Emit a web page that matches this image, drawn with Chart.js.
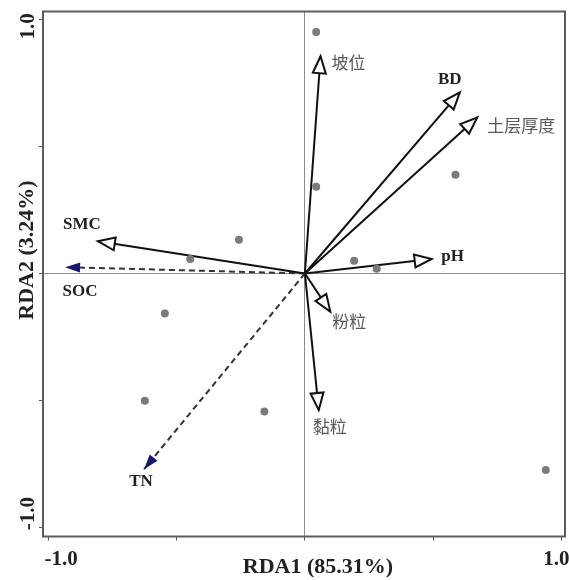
<!DOCTYPE html>
<html>
<head>
<meta charset="utf-8">
<script src="https://cdn.jsdelivr.net/npm/chart.js@4.4.1/dist/chart.umd.min.js"></script>
<style>
  html, body { margin: 0; padding: 0; background: #fff; }
</style>
</head>
<body>
<canvas id="rda" width="569" height="580"></canvas>
<script>
// sample scores
const siteX = [0.044, 0.044, 0.587, -0.257, -0.447, 0.192, 0.280, -0.546, -0.624, -0.158, 0.939];
const siteY = [0.950, 0.341, 0.389, 0.133, 0.057, 0.050, 0.019, -0.157, -0.501, -0.543, -0.773];

// environmental factor arrows
const envNames = ['坡位', 'BD', '土层厚度', 'pH', 'SMC', 'SOC', 'TN', '粉粒', '黏粒'];
const envX = [0.061, 0.604, 0.672, 0.494, -0.807, -0.935, -0.627, 0.099, 0.054];
const envY = [0.855, 0.713, 0.614, 0.057, 0.127, 0.025, -0.770, -0.150, -0.537];
const envDashed = [false, false, false, false, false, true, true, false, false];

const tickValues = [-1, -0.5, 0, 0.5, 1];
const tickLabels = ['-1.0', '', '', '', '1.0'];
const xTitle = 'RDA1 (85.31%)';
const yTitle = 'RDA2 (3.24%)';

const SERIF = '"Liberation Serif", "Times New Roman", serif';
const CJK = '"Noto Sans CJK SC", sans-serif';

// label offsets from arrow tips (px)
const labelOffsets = [[28, 6], [-10, -13], [44, 8], [21, -2], [-16, -17], [15, 24], [-3, 12], [19, 10], [11, 17]];

const datasets = [{
  label: 'sites',
  data: siteX.map((x, i) => ({ x: x, y: siteY[i] })),
  pointRadius: 4,
  pointBackgroundColor: '#7b7b7b',
  pointBorderWidth: 0,
  showLine: false
}];
envNames.forEach((name, i) => {
  datasets.push({
    label: name,
    data: [{ x: 0, y: 0 }, { x: envX[i], y: envY[i] }],
    showLine: true,
    borderColor: envDashed[i] ? '#333' : '#111',
    borderWidth: 2,
    borderDash: envDashed[i] ? [6, 4] : [],
    pointRadius: 0,
    dashed: envDashed[i]
  });
});

const arrowPlugin = {
  id: 'arrows',
  afterDatasetsDraw(chart) {
    const ctx = chart.ctx;
    chart.data.datasets.forEach((ds, i) => {
      if (i === 0) return;
      const meta = chart.getDatasetMeta(i);
      const p0 = meta.data[0], p1 = meta.data[1];
      const ang = Math.atan2(p1.y - p0.y, p1.x - p0.x);
      const len = ds.dashed ? 15 : 17;
      const hw = ds.dashed ? 5 : 6.5;
      const bx = p1.x - len * Math.cos(ang), by = p1.y - len * Math.sin(ang);
      ctx.save();
      ctx.setLineDash([]);
      ctx.beginPath();
      ctx.moveTo(p1.x, p1.y);
      ctx.lineTo(bx + hw * Math.sin(ang), by - hw * Math.cos(ang));
      ctx.lineTo(bx - hw * Math.sin(ang), by + hw * Math.cos(ang));
      ctx.closePath();
      if (ds.dashed) {
        ctx.fillStyle = '#17176c';
        ctx.fill();
      } else {
        ctx.fillStyle = '#fff';
        ctx.fill();
        ctx.lineWidth = 2;
        ctx.lineJoin = 'miter';
        ctx.strokeStyle = '#111';
        ctx.stroke();
      }
      // label
      const off = labelOffsets[i - 1];
      const latin = /^[A-Za-z]+$/.test(ds.label);
      ctx.font = latin ? 'bold 17px ' + SERIF : '17px ' + CJK;
      ctx.fillStyle = latin ? '#222' : '#5a5a5a';
      ctx.textAlign = 'center';
      ctx.textBaseline = 'middle';
      ctx.fillText(ds.label, p1.x + off[0], p1.y + off[1]);
      ctx.restore();
    });
  },
  afterDraw(chart) {
    const ctx = chart.ctx;
    const a = chart.chartArea;
    const xs = chart.scales.x, ys = chart.scales.y;
    ctx.save();
    ctx.strokeStyle = '#5c5c5c';
    ctx.lineWidth = 2;
    ctx.strokeRect(a.left, a.top, a.right - a.left, a.bottom - a.top);

    ctx.fillStyle = '#222';
    ctx.font = 'bold 21px ' + SERIF;
    ctx.textBaseline = 'middle';
    // x tick labels
    ctx.textAlign = 'left';
    ctx.fillText(tickLabels[0], xs.getPixelForValue(tickValues[0]) - 4, 560);
    ctx.textAlign = 'right';
    ctx.fillText(tickLabels[4], xs.getPixelForValue(tickValues[4]) + 8, 560);
    // y tick labels (rotated)
    ctx.textAlign = 'center';
    [[tickValues[4], tickLabels[4], 7], [tickValues[0], tickLabels[0], -14]].forEach(([v, t, d]) => {
      ctx.save();
      ctx.translate(29, ys.getPixelForValue(v) + d);
      ctx.rotate(-Math.PI / 2);
      ctx.fillText(t, 0, 0);
      ctx.restore();
    });
    // axis titles
    ctx.font = 'bold 22px ' + SERIF;
    ctx.fillText(xTitle, 318, 567);
    ctx.save();
    ctx.translate(27, 250);
    ctx.rotate(-Math.PI / 2);
    ctx.fillText(yTitle, 0, 0);
    ctx.restore();
    ctx.restore();
  }
};

const zeroGrid = {
  color: c => (c.tick && c.tick.value === 0 ? '#8c8c8c' : 'rgba(0,0,0,0)'),
  lineWidth: 1,
  tickColor: '#555',
  tickLength: 4
};

new Chart(document.getElementById('rda').getContext('2d'), {
  type: 'scatter',
  data: { datasets: datasets },
  options: {
    responsive: false,
    animation: false,
    devicePixelRatio: 1,
    layout: { padding: { top: 11.5, right: 3, left: 0, bottom: 0 } },
    plugins: { legend: { display: false }, tooltip: { enabled: false } },
    scales: {
      x: {
        type: 'linear', min: -1.021, max: 1.014,
        afterBuildTicks: s => { s.ticks = tickValues.map(v => ({ value: v })); },
        afterFit: s => { s.height = 43.5; },
        ticks: { display: false },
        grid: zeroGrid,
        border: { display: false }
      },
      y: {
        type: 'linear', min: -1.035, max: 1.031,
        afterBuildTicks: s => { s.ticks = tickValues.map(v => ({ value: v })); },
        afterFit: s => { s.width = 43; },
        ticks: { display: false },
        grid: zeroGrid,
        border: { display: false }
      }
    }
  },
  plugins: [arrowPlugin]
});
</script>
</body>
</html>
